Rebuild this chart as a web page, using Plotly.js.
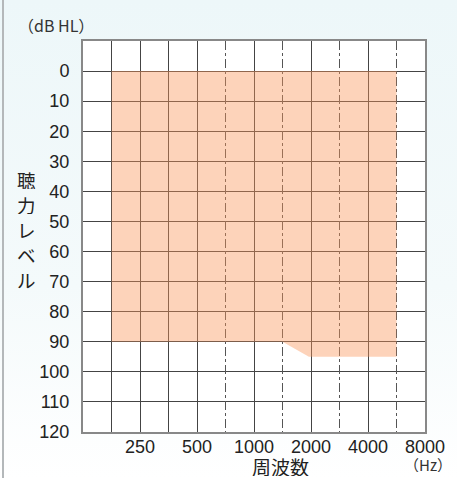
<!DOCTYPE html>
<html>
<head>
<meta charset="utf-8">
<script src="https://cdn.plot.ly/plotly-3.0.1.min.js"></script>
<style>
  html, body { margin: 0; padding: 0; }
  body { width: 457px; height: 478px; background: linear-gradient(#EDF7F9, #F4FAFB 60%, #FFFFFF); position: relative; overflow: hidden; }
  #chart { width: 457px; height: 478px; }
  #edge { position: absolute; left: 2px; top: 0; width: 2px; height: 478px; background: #B4B8BA; }
</style>
</head>
<body>
<div id="chart"></div>
<div id="edge"></div>
<script>
// Data: audible range (hearing-level region) as a polygon in Hz / dB HL
const regionHz = [177, 5657, 5657, 1950, 1414, 177];
const regionDb = [0, 0, 95, 95, 90, 90];

// Axis ticks
const freqTickVals = [177, 250, 354, 500, 1000, 2000, 4000, 8000];
const freqTickText = ['', '250', '', '500', '1000', '2000', '4000', '8000'];
const freqDashedVals = [707, 1414, 2828, 5657];
const dbTickVals = [0, 10, 20, 30, 40, 50, 60, 70, 80, 90, 100, 110, 120];

// Titles
const yTitleChars = ['聴', '力', 'レ', 'ベ', 'ル'];
const xTitle = '周波数';
const yUnit = '（dB HL）';
const xUnit = '（Hz）';

const tickFont = { family: 'Liberation Sans', size: 18, color: '#222' };
const jpFont = 'Noto Sans CJK JP, sans-serif';

const traces = [
  {
    x: regionHz, y: regionDb, type: 'scatter', mode: 'lines',
    fill: 'toself', fillcolor: 'rgba(250,150,90,0.42)',
    line: { width: 0, color: 'rgba(0,0,0,0)' },
    hoverinfo: 'skip', showlegend: false, xaxis: 'x', yaxis: 'y'
  },
  {
    x: [125, 8000], y: [-10, 120], type: 'scatter', mode: 'markers',
    marker: { opacity: 0 }, hoverinfo: 'skip', showlegend: false,
    xaxis: 'x2', yaxis: 'y'
  }
];

const xr = [Math.log10(125), Math.log10(8000)];
const plotTop = 41, plotH = 391;
const charCenters = [180, 205, 230, 255, 280];

const annotations = [
  { text: yUnit, xref: 'paper', yref: 'paper', x: -0.197, y: 1.0, yshift: 16,
    xanchor: 'left', yanchor: 'middle', showarrow: false,
    font: { family: jpFont, size: 16, color: '#333' } },
  { text: xTitle, xref: 'paper', yref: 'paper', x: 0.577, y: 0, yshift: -34,
    xanchor: 'center', yanchor: 'middle', showarrow: false, height: 20, borderpad: 0,
    font: { family: jpFont, size: 19, color: '#222' } },
  { text: xUnit, xref: 'paper', yref: 'paper', x: 1.01, y: 0, yshift: -32,
    xanchor: 'center', yanchor: 'middle', showarrow: false, height: 15, borderpad: 0,
    font: { family: jpFont, size: 15, color: '#333' } }
];
yTitleChars.forEach((ch, i) => {
  annotations.push({
    text: ch, xref: 'paper', yref: 'paper', x: -0.164,
    y: 1 - (charCenters[i] - plotTop) / plotH,
    xanchor: 'center', yanchor: 'middle', showarrow: false, height: 18, borderpad: 0,
    font: { family: jpFont, size: 18.5, color: '#222' }
  });
});

const layout = {
  width: 457, height: 478,
  margin: { l: 83, r: 32, t: 41, b: 46 },
  paper_bgcolor: 'rgba(0,0,0,0)',
  plot_bgcolor: '#FFFFFF',
  xaxis: {
    type: 'log', range: xr, tickmode: 'array',
    tickvals: freqTickVals, ticktext: freqTickText,
    showgrid: true, gridcolor: '#444', gridwidth: 1,
    showline: true, linecolor: '#888', linewidth: 2, mirror: true,
    ticks: '', ticklabelstandoff: -3, tickfont: tickFont, zeroline: false
  },
  xaxis2: {
    type: 'log', range: xr, overlaying: 'x', tickmode: 'array',
    tickvals: freqDashedVals, showticklabels: false,
    showgrid: true, gridcolor: '#555', gridwidth: 1, griddash: 'dashdot',
    showline: false, ticks: '', zeroline: false
  },
  yaxis: {
    range: [120, -10], tickmode: 'array', tickvals: dbTickVals,
    showgrid: true, gridcolor: '#444', gridwidth: 1,
    showline: true, linecolor: '#888', linewidth: 2, mirror: true,
    ticks: 'outside', ticklen: 8, tickcolor: 'rgba(0,0,0,0)',
    tickfont: tickFont, zeroline: false
  },
  annotations: annotations
};

Plotly.newPlot('chart', traces, layout, { displayModeBar: false, staticPlot: true });
</script>
</body>
</html>
